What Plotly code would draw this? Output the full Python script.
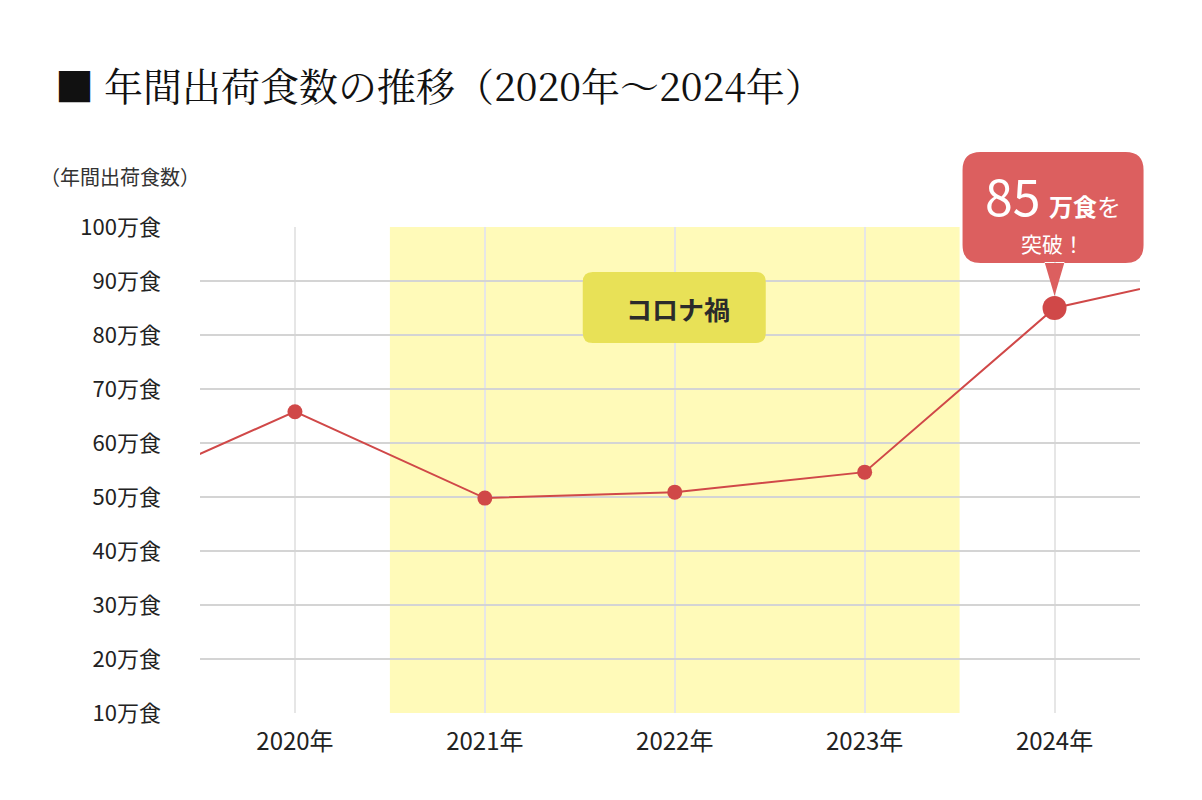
import plotly.graph_objects as go

# data (values in 万食)
years = [2019, 2020, 2021, 2022, 2023, 2024, 2025]
shipments = [50.2, 65.8, 49.8, 50.9, 54.6, 85.0, 92.8]
shown_years = [2020, 2021, 2022, 2023, 2024]
y_ticks = [10, 20, 30, 40, 50, 60, 70, 80, 90, 100]
y_tick_labels = [f"{v}万食" for v in y_ticks]
x_tick_labels = [f"{y}年" for y in shown_years]
covid_span = (2020.5, 2023.5)

title_text = "■ 年間出荷食数の推移（2020年～2024年）"
unit_text = "（年間出荷食数）"
covid_text = "コロナ禍"

SANS = "Noto Sans CJK JP, Noto Sans, sans-serif"
SERIF = "Noto Serif CJK JP, Liberation Serif, Noto Sans CJK JP, serif"
RED = "#d04848"
CALLOUT = "#dc5f5f"

X_RANGE = [2019.5, 2024.45]
Y_RANGE = [y_ticks[0], y_ticks[-1]]

fig = go.Figure()

fig.add_trace(
    go.Scatter(
        x=years,
        y=shipments,
        mode="lines",
        line=dict(color=RED, width=2),
        hoverinfo="skip",
        showlegend=False,
    )
)
mark_idx = [years.index(y) for y in shown_years]
fig.add_trace(
    go.Scatter(
        x=[years[i] for i in mark_idx],
        y=[shipments[i] for i in mark_idx],
        mode="markers",
        marker=dict(color=RED, size=[15, 15, 15, 15, 24], opacity=1, line=dict(width=0)),
        showlegend=False,
    )
)

# corona period band
fig.add_shape(
    type="rect",
    xref="x",
    yref="y",
    x0=covid_span[0],
    x1=covid_span[1],
    y0=Y_RANGE[0],
    y1=Y_RANGE[1],
    fillcolor="#fffab9",
    line=dict(width=0),
    layer="below",
)

# corona label box, anchored to 2022 / 85
fig.add_shape(
    type="path",
    xref="x",
    yref="y",
    xsizemode="pixel",
    ysizemode="pixel",
    xanchor=2022,
    yanchor=85,
    path="M -82,-35 L 81,-35 Q 91,-35 91,-25 L 91,26 Q 91,36 81,36 L -82,36 Q -92,36 -92,26 L -92,-25 Q -92,-35 -82,-35 Z",
    fillcolor="#e8e157",
    line=dict(width=0),
)
fig.add_annotation(
    x=2022,
    y=85,
    xref="x",
    yref="y",
    text=f"<b>{covid_text}</b>",
    showarrow=False,
    xshift=3,
    font=dict(family=SANS, size=26, color="#2b2b2b"),
)

# callout for 2024 (paper refs so it is not clipped by the plot area)
peak_year = shown_years[-1]
peak_val = shipments[years.index(peak_year)]
px_anchor = (peak_year - X_RANGE[0]) / (X_RANGE[1] - X_RANGE[0])
py_anchor = (peak_val - Y_RANGE[0]) / (Y_RANGE[1] - Y_RANGE[0])
fig.add_shape(
    type="path",
    xref="paper",
    yref="paper",
    xsizemode="pixel",
    ysizemode="pixel",
    xanchor=px_anchor,
    yanchor=py_anchor,
    path=(
        "M -74,45 L 71,45 Q 89,45 89,63 L 89,138 Q 89,156 71,156 L -74,156 "
        "Q -92,156 -92,138 L -92,63 Q -92,45 -74,45 Z "
        "M -10,46 L 10,46 L 0,12 Z"
    ),
    fillcolor=CALLOUT,
    line=dict(width=0),
)
callout_texts = [
    (f"{int(peak_val)}", -42, 114, 50),
    ("<b>万食</b>を", 30, 103, 24),
    ("突破！", -2, 65, 21),
]
for text, dx, dy, size in callout_texts:
    fig.add_annotation(
        x=px_anchor,
        y=py_anchor,
        xref="paper",
        yref="paper",
        xanchor="center",
        yanchor="middle",
        text=text,
        showarrow=False,
        xshift=dx,
        yshift=dy,
        font=dict(family=SANS, size=size, color="white"),
    )

# title and unit label
fig.add_annotation(
    x=-192 / 940 + 45 / 940,
    y=1 + (219 - 76) / 486,
    xref="paper",
    yref="paper",
    xanchor="left",
    yanchor="middle",
    text=title_text,
    showarrow=False,
    font=dict(family=SERIF, size=39, color="#111111"),
)
fig.add_annotation(
    x=-192 / 940 + 30 / 940,
    y=1 + (219 - 168) / 486,
    xref="paper",
    yref="paper",
    xanchor="left",
    yanchor="middle",
    text=unit_text,
    showarrow=False,
    font=dict(family=SANS, size=20, color="#333333"),
)

fig.update_layout(
    width=1202,
    height=800,
    margin=dict(l=192, r=70, t=219, b=95),
    paper_bgcolor="white",
    plot_bgcolor="rgba(0,0,0,0)",
    font=dict(family=SANS, color="#222222"),
    xaxis=dict(
        range=X_RANGE,
        tickvals=shown_years,
        ticktext=x_tick_labels,
        showgrid=True,
        gridcolor="#e6e6e6",
        gridwidth=2,
        zeroline=False,
        showline=False,
        ticks="",
        ticklabelstandoff=12,
        tickfont=dict(family=SANS, size=24, color="#222222"),
        fixedrange=True,
    ),
    yaxis=dict(
        range=Y_RANGE,
        tickvals=y_ticks,
        ticktext=y_tick_labels,
        showgrid=True,
        gridcolor="#d4d4d4",
        gridwidth=2,
        zeroline=False,
        showline=False,
        ticks="",
        ticklabelstandoff=38,
        tickfont=dict(family=SANS, size=22, color="#222222"),
        fixedrange=True,
    ),
    showlegend=False,
)

fig.write_html("out.html")
